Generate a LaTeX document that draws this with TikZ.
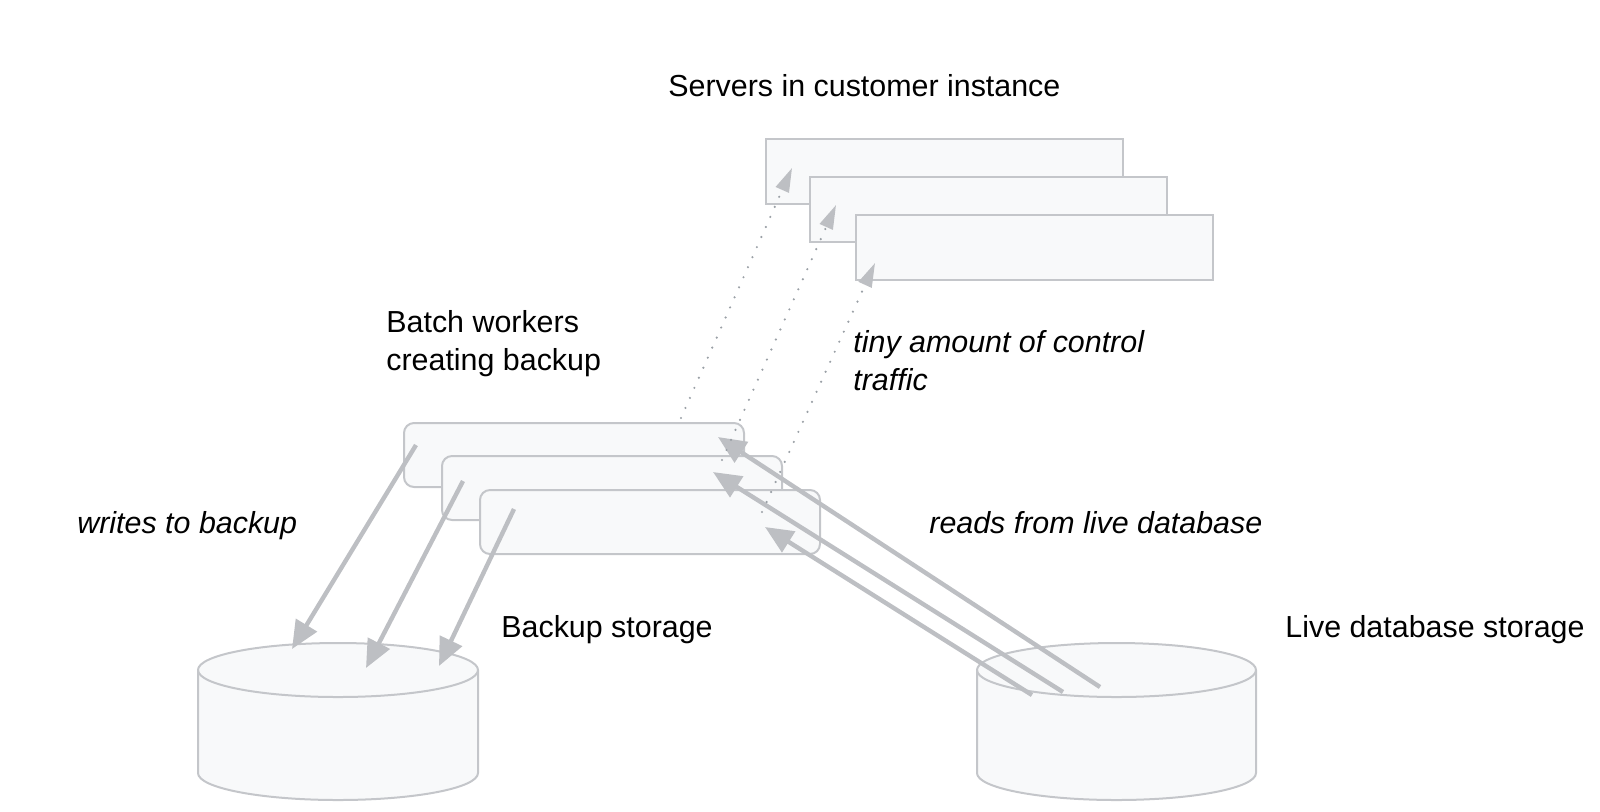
\documentclass[tikz,border=0pt]{standalone}
\usepackage{fontspec}
\setmainfont{Liberation Sans}
\usepackage{xcolor}
\usetikzlibrary{arrows.meta, positioning}

\definecolor{boxfill}{HTML}{F8F9FA}
\definecolor{boxline}{HTML}{C4C6CA}
\definecolor{arrowgray}{HTML}{BDBFC3}
\definecolor{dotgray}{HTML}{9AA0A6}

\tikzset{
  server/.style={draw=boxline, fill=boxfill, line width=1pt, minimum width=178.5pt, minimum height=32.5pt, anchor=north west, inner sep=0pt},
  worker/.style={server, rounded corners=5pt, minimum width=170pt, minimum height=32pt},
  disk/.style={draw=boxline, fill=boxfill, line width=1pt},
  flow/.style={draw=arrowgray, line width=2.2pt, -{Triangle[length=14pt, width=12pt]}},
  control/.style={draw=dotgray, line width=1.2pt, line cap=round, dash pattern=on 0pt off 5.5pt, -{Triangle[length=12pt, width=7pt, color=arrowgray]}},
  label/.style={font=\fontsize{15.2}{19}\selectfont, inner sep=0pt, align=left},
  note/.style={label, font=\fontsize{15.2}{19}\selectfont\itshape},
}

\begin{document}
\begin{tikzpicture}[x=0.5pt, y=-0.5pt]
    \useasboundingbox (0,0) rectangle (1600,811);

    % Servers in customer instance
    \node [server] (srv1) at (765,138) {};
    \node [server] (srv2) at (809,176) {};
    \node [server] (srv3) at (855,214) {};
    \node [label, anchor=base west] (srvlabel) at (668,96) {Servers in customer instance};

    % Batch workers
    \node [worker] (bw1) at (403,422) {};
    \node [worker] (bw2) at (441,455) {};
    \node [worker] (bw3) at (479,489) {};
    \node [label, anchor=north west] (bwlabel) at (386,310) {Batch workers\\creating backup};

    % Backup storage
    \draw [disk] (198,670) -- (198,773) arc [start angle=180, end angle=0, x radius=140, y radius=27]
        -- (478,670) arc [start angle=0, end angle=-180, x radius=140, y radius=27] -- cycle;
    \draw [disk, fill=none] (198,670) arc [start angle=180, end angle=0, x radius=140, y radius=27];
    \node [label, anchor=base west] (backuplabel) at (501,637) {Backup storage};

    % Live database storage
    \draw [disk] (977,670) -- (977,773) arc [start angle=180, end angle=0, x radius=139.5, y radius=27]
        -- (1256,670) arc [start angle=0, end angle=-180, x radius=139.5, y radius=27] -- cycle;
    \draw [disk, fill=none] (977,670) arc [start angle=180, end angle=0, x radius=139.5, y radius=27];
    \node [label, anchor=base west] (livelabel) at (1285,637) {Live database storage};

    % Writes
    \coordinate (w1) at (416,445);  \coordinate (b1) at (292,649);
    \coordinate (w2) at (463,481);  \coordinate (b2) at (366,668);
    \coordinate (w3) at (514,509);  \coordinate (b3) at (439,666);
    \draw [flow] (w1) -- (b1);
    \draw [flow] (w2) -- (b2);
    \draw [flow] (w3) -- (b3);
    \node [note, anchor=base west] (writelabel) at (77,533) {writes to backup};

    % Reads
    \coordinate (l1) at (1100,687); \coordinate (r1) at (718,437);
    \coordinate (l2) at (1063,692); \coordinate (r2) at (713,472);
    \coordinate (l3) at (1032,695); \coordinate (r3) at (765,527);
    \draw [flow] (l1) -- (r1);
    \draw [flow] (l2) -- (r2);
    \draw [flow] (l3) -- (r3);
    \node [note, anchor=base west] (readlabel) at (929,533) {reads from live database};

    % Control traffic
    \coordinate (c1) at (681,418); \coordinate (s1) at (792,168);
    \coordinate (c2) at (722,460); \coordinate (s2) at (836,205);
    \coordinate (c3) at (762,512); \coordinate (s3) at (875,263);
    \draw [control] (c1) -- (s1);
    \draw [control] (c2) -- (s2);
    \draw [control] (c3) -- (s3);
    \node [note, anchor=north west] (ctrllabel) at (853,330) {tiny amount of control\\traffic};
\end{tikzpicture}
\end{document}
